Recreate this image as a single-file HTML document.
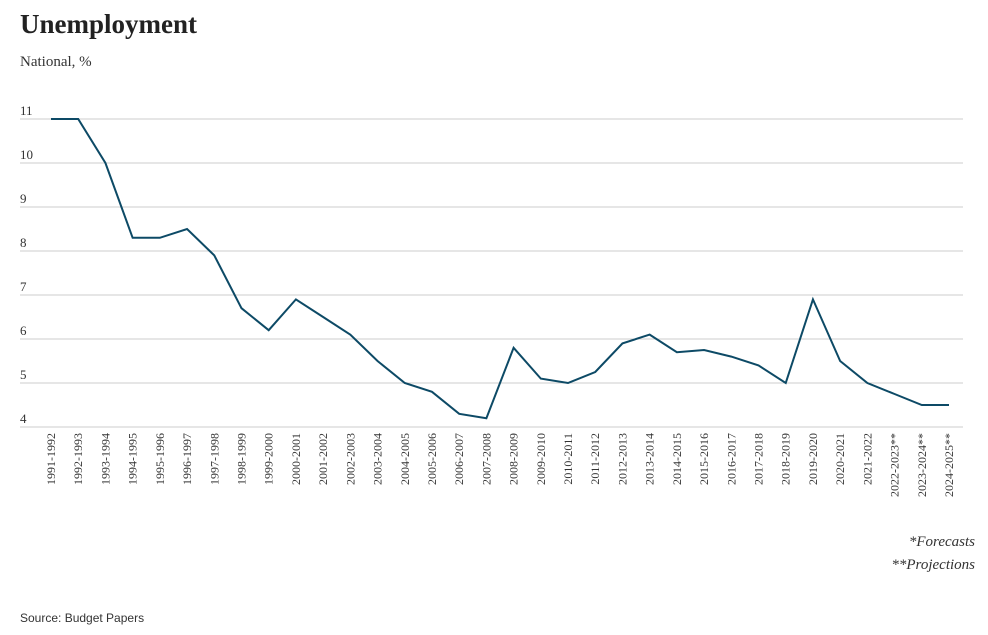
<!DOCTYPE html>
<html><head><meta charset="utf-8"><style>
body{margin:0;background:#fff;width:988px;height:630px;overflow:hidden;font-family:"Liberation Serif",serif;}
</style></head><body>
<svg width="988" height="630">
<text x="20" y="33" font-size="27" font-weight="bold" fill="#222" font-family="Liberation Serif, serif">Unemployment</text>
<text x="20" y="66" font-size="15" fill="#333" font-family="Liberation Serif, serif">National, %</text>
<g id="grid"></g><g id="xlabels"></g><g id="series"></g>
<text x="975" y="546" font-size="15" font-style="italic" text-anchor="end" fill="#333">*Forecasts</text>
<text x="975" y="569" font-size="15" font-style="italic" text-anchor="end" fill="#333">**Projections</text>
<text x="20" y="622" font-size="12" fill="#333" font-family="Liberation Sans, sans-serif">Source: Budget Papers</text>
</svg>
<script>
const categories=["1991-1992","1992-1993","1993-1994","1994-1995","1995-1996","1996-1997","1997-1998","1998-1999","1999-2000","2000-2001","2001-2002","2002-2003","2003-2004","2004-2005","2005-2006","2006-2007","2007-2008","2008-2009","2009-2010","2010-2011","2011-2012","2012-2013","2013-2014","2014-2015","2015-2016","2016-2017","2017-2018","2018-2019","2019-2020","2020-2021","2021-2022","2022-2023**","2023-2024**","2024-2025**"];
const values=[11,11,10,8.3,8.3,8.5,7.9,6.7,6.2,6.9,6.5,6.1,5.5,5.0,4.8,4.3,4.2,5.8,5.1,5.0,5.25,5.9,6.1,5.7,5.75,5.6,5.4,5.0,6.9,5.5,5.0,4.75,4.5,4.5];
const yTicks=[4,5,6,7,8,9,10,11];
const NS="http://www.w3.org/2000/svg";
const x=i=>51+i*(949-51)/(categories.length-1);
const y=v=>427-(v-4)*44;
const grid=document.getElementById('grid');
yTicks.forEach(t=>{
 const l=document.createElementNS(NS,'line');
 
 
 l.setAttribute('x1',20);l.setAttribute('x2',963);l.setAttribute('y1',y(t));l.setAttribute('y2',y(t));
 l.setAttribute('stroke','#ccc');l.setAttribute('stroke-width',1);grid.appendChild(l);
 const tx=document.createElementNS(NS,'text');
 
 
 tx.setAttribute('x',20);tx.setAttribute('y',y(t)-4);tx.setAttribute('font-size',13);tx.setAttribute('fill','#333');
 tx.textContent=t;grid.appendChild(tx);
});
const xl=document.getElementById('xlabels');
categories.forEach((c,i)=>{
 const tx=document.createElementNS(NS,'text');
 
 
 tx.setAttribute('transform',`translate(${x(i)+4},433) rotate(-90)`);
 tx.setAttribute('text-anchor','end');tx.setAttribute('font-size',12);tx.setAttribute('fill','#333');
 tx.textContent=c;xl.appendChild(tx);
});
const p=document.createElementNS(NS,'polyline');


p.setAttribute('points',values.map((v,i)=>x(i)+','+y(v)).join(' '));
p.setAttribute('fill','none');p.setAttribute('stroke','#0d4a66');p.setAttribute('stroke-width',2);
document.getElementById('series').appendChild(p);
</script>
</body></html>
